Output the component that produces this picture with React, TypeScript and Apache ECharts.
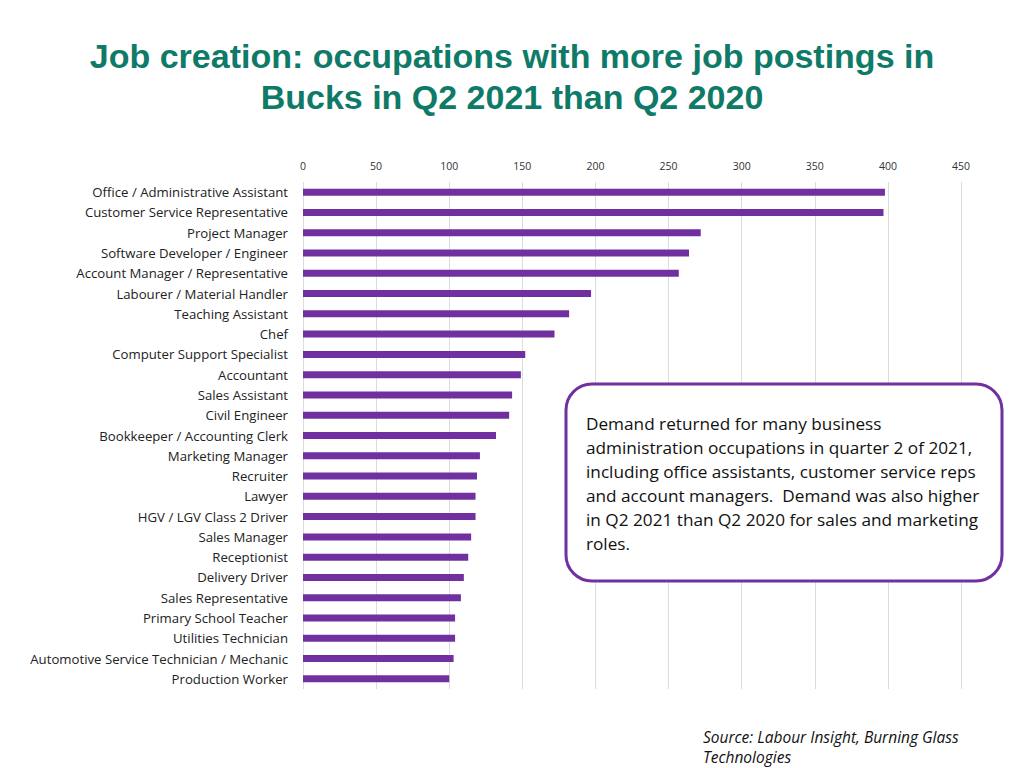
import React, { useEffect, useRef } from "react";
import * as echarts from "echarts";

const categories = [
  "Office / Administrative Assistant",
  "Customer Service Representative",
  "Project Manager",
  "Software Developer / Engineer",
  "Account Manager / Representative",
  "Labourer / Material Handler",
  "Teaching Assistant",
  "Chef",
  "Computer Support Specialist",
  "Accountant",
  "Sales Assistant",
  "Civil Engineer",
  "Bookkeeper / Accounting Clerk",
  "Marketing Manager",
  "Recruiter",
  "Lawyer",
  "HGV / LGV Class 2 Driver",
  "Sales Manager",
  "Receptionist",
  "Delivery Driver",
  "Sales Representative",
  "Primary School Teacher",
  "Utilities Technician",
  "Automotive Service Technician / Mechanic",
  "Production Worker",
];

const postings = [
  398, 397, 272, 264, 257, 197, 182, 172, 152, 149, 143, 141, 132, 121, 119,
  118, 118, 115, 113, 110, 108, 104, 104, 103, 100,
];

const axisMin = 0;
const axisMax = 450;
const axisInterval = 50;

const titleText =
  "Job creation: occupations with more job postings in\nBucks in Q2 2021 than Q2 2020";
const noteText =
  "Demand returned for many business\nadministration occupations in quarter 2 of 2021,\nincluding office assistants, customer service reps\nand account managers.  Demand was also higher\nin Q2 2021 than Q2 2020 for sales and marketing\nroles.";
const sourceText = "Source: Labour Insight, Burning Glass\nTechnologies";

export default function App() {
  const ref = useRef<HTMLDivElement>(null);

  useEffect(() => {
    if (!ref.current) return;
    const chart = echarts.init(ref.current, null, { renderer: "svg" });
    chart.setOption({
      animation: false,
      backgroundColor: "#ffffff",
      title: {
        text: titleText,
        left: "center",
        top: 30,
        textStyle: {
          fontFamily: "Liberation Sans",
          fontWeight: "bold",
          fontSize: 34,
          lineHeight: 41,
          color: "#0E7A67",
        },
      },
      grid: {
        left: 303,
        right: 63,
        top: 182,
        height: 507,
        containLabel: false,
      },
      xAxis: {
        type: "value",
        position: "top",
        min: axisMin,
        max: axisMax,
        interval: axisInterval,
        axisLine: { show: false },
        axisTick: { show: false },
        axisLabel: {
          margin: 11,
          fontFamily: "Open Sans",
          fontSize: 10.5,
          color: "#333333",
        },
        splitLine: { show: true, lineStyle: { color: "#DCDCDC", width: 1 } },
      },
      yAxis: {
        type: "category",
        data: categories,
        inverse: true,
        axisLine: { show: false },
        axisTick: { show: false },
        axisLabel: {
          margin: 15,
          fontFamily: "Open Sans",
          fontSize: 13.2,
          color: "#222222",
        },
      },
      series: [
        {
          type: "bar",
          data: postings,
          barWidth: 7,
          itemStyle: { color: "#7030A0" },
        },
      ],
      graphic: [
        {
          type: "rect",
          shape: { x: 566, y: 384, width: 436, height: 197, r: 26 },
          style: { fill: "#ffffff", stroke: "#7030A0", lineWidth: 3 },
          z: 10,
        },
        {
          type: "text",
          x: 586,
          y: 411,
          style: {
            text: noteText,
            fontFamily: "Open Sans",
            fontSize: 17.2,
            lineHeight: 24,
            fill: "#111111",
          },
          z: 11,
        },
        {
          type: "text",
          x: 703,
          y: 727,
          style: {
            text: sourceText,
            fontFamily: "Open Sans",
            fontStyle: "italic",
            fontSize: 15.5,
            lineHeight: 20,
            fill: "#111111",
          },
          z: 11,
        },
      ],
    });
    return () => chart.dispose();
  }, []);

  return (
    <div
      ref={ref}
      style={{ position: "fixed", left: 0, top: 0, width: 1024, height: 768 }}
    />
  );
}
